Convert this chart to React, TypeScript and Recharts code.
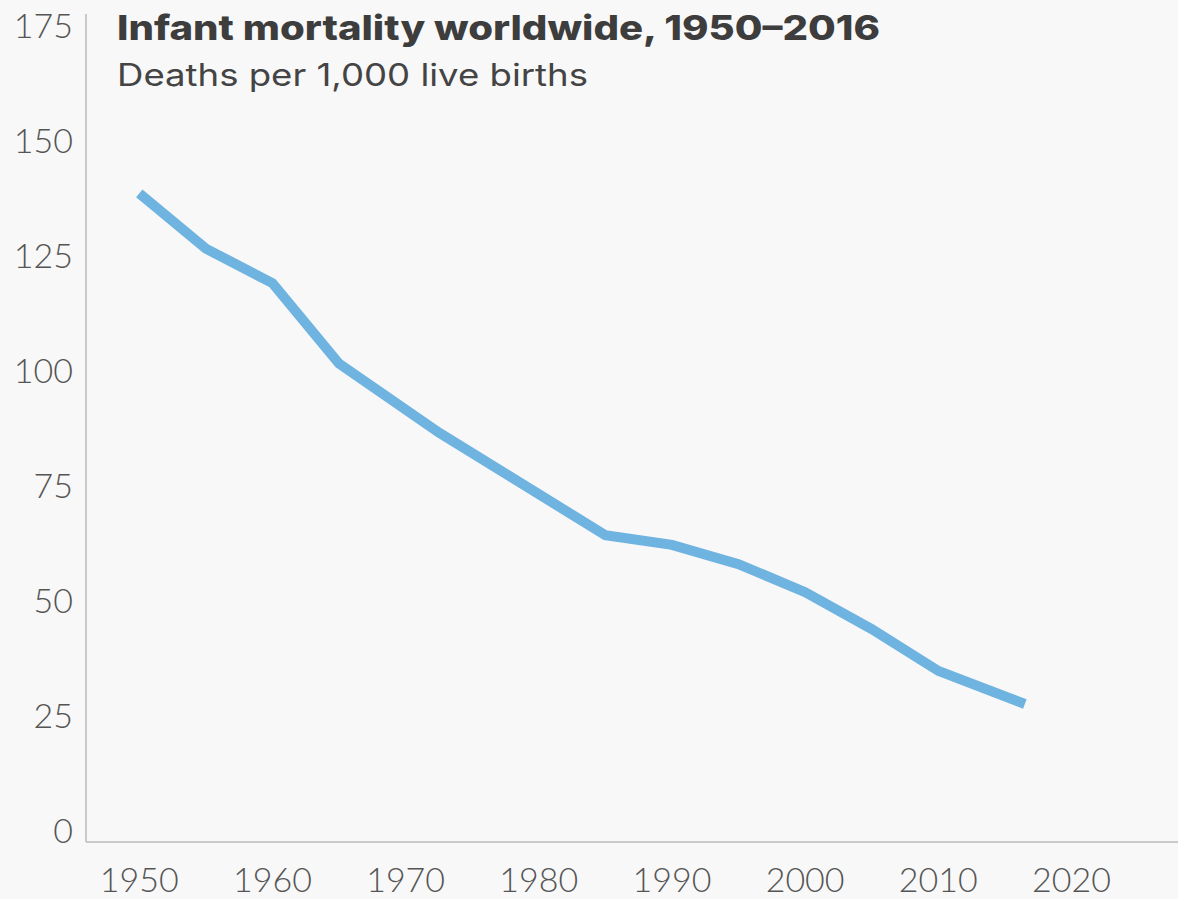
import React from "react";
import { LineChart, Line, XAxis, YAxis } from "recharts";

const years = [1950, 1955, 1960, 1965, 1972.5, 1985, 1990, 1995, 2000, 2005, 2010, 2016.5];
const deaths = [141, 129, 121.5, 104, 89, 66.7, 64.6, 60.4, 54.3, 46.3, 37.2, 30];
const xTicks = [1950, 1960, 1970, 1980, 1990, 2000, 2010, 2020];
const yTicks = [0, 25, 50, 75, 100, 125, 150, 175];

const W = 1178;
const H = 899;
const AXIS_X = 86;
const AXIS_Y = 842;
const FONT = "Lato, 'Open Sans', sans-serif";
const TITLE_FONT = "Inter, 'Open Sans', sans-serif";

const data = years.map((year, i) => ({ year, deaths: deaths[i] }));

const YTick = (props: any) => {
  const { y, payload } = props;
  return (
    <text x={AXIS_X - 13} y={y + 1} textAnchor="end" fontFamily={FONT} fontWeight={300} fontSize={34} fill="#555">
      {payload.value}
    </text>
  );
};

const XTick = (props: any) => {
  const { x, payload } = props;
  return (
    <text x={x} y={AXIS_Y + 50} textAnchor="middle" fontFamily={FONT} fontWeight={300} fontSize={34} fill="#555">
      {payload.value}
    </text>
  );
};

export default function App() {
  return (
    <div style={{ position: "absolute", left: 0, top: 0, width: W, height: H, background: "#f8f8f8" }}>
      <LineChart width={W} height={H} data={data} margin={{ top: 14, right: 0, bottom: 0, left: 0 }}>
        <XAxis
          dataKey="year"
          type="number"
          domain={[1946, 2028]}
          ticks={xTicks}
          tickLine={false}
          axisLine={{ stroke: "#bbb", strokeWidth: 1.5 }}
          height={H - AXIS_Y}
          tick={<XTick />}
          interval={0}
        />
        <YAxis
          domain={[0, 180]}
          ticks={yTicks}
          tickLine={false}
          axisLine={{ stroke: "#bbb", strokeWidth: 1.5 }}
          width={AXIS_X}
          tick={<YTick />}
          interval={0}
        />
        <Line
          dataKey="deaths"
          type="linear"
          stroke="#6fb3e0"
          strokeWidth={10}
          dot={false}
          activeDot={false}
          isAnimationActive={false}
        />
      </LineChart>
      <svg width={W} height={110} style={{ position: "absolute", left: 0, top: 0, pointerEvents: "none" }}>
        <text
          x={117}
          y={40}
          fontFamily={TITLE_FONT}
          fontWeight={800}
          fontSize={34}
          fill="#3d3d3d"
          textLength={763}
          lengthAdjust="spacingAndGlyphs"
        >
          Infant mortality worldwide, 1950–2016
        </text>
        <text
          x={117}
          y={86}
          fontFamily={TITLE_FONT}
          fontWeight={400}
          fontSize={31}
          fill="#444"
          textLength={471}
          lengthAdjust="spacingAndGlyphs"
        >
          Deaths per 1,000 live births
        </text>
      </svg>
    </div>
  );
}
